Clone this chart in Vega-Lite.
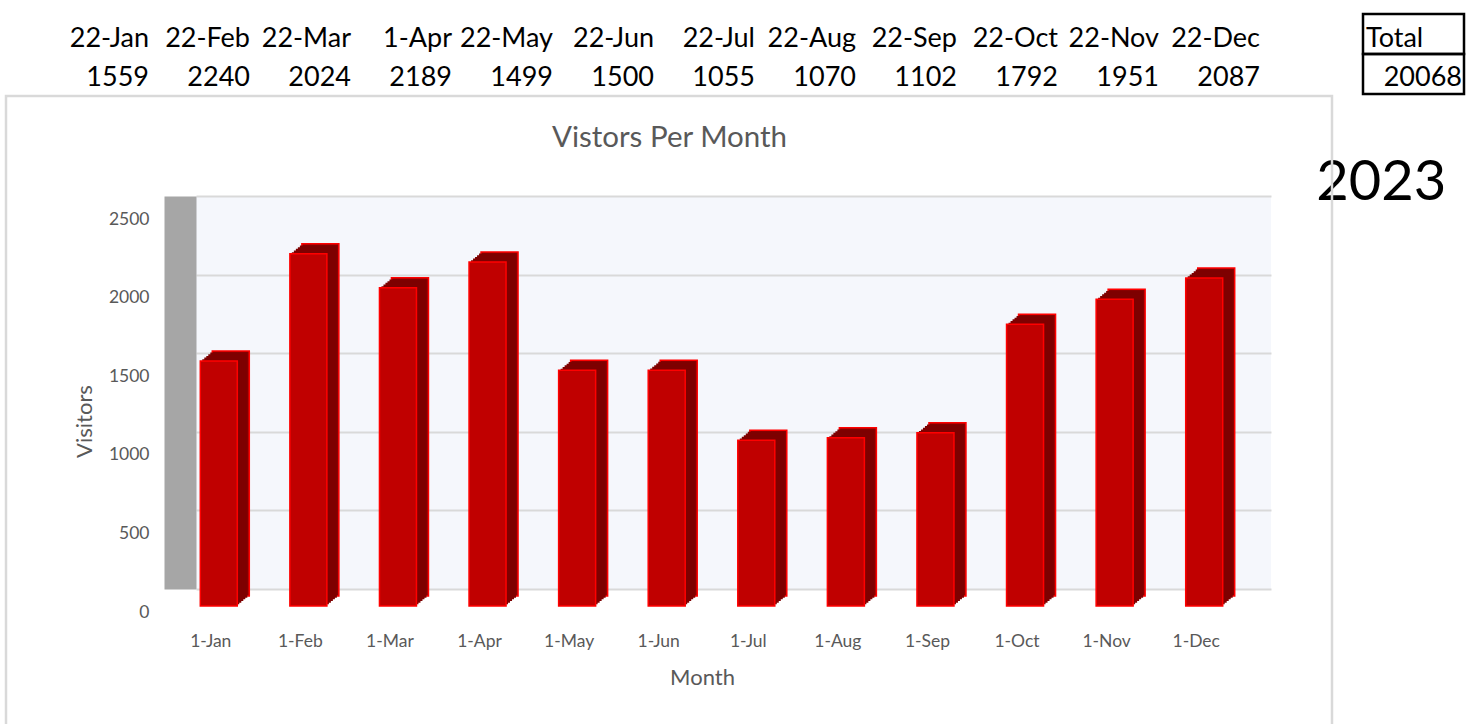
{
  "$schema": "https://vega.github.io/schema/vega-lite/v6.json",
  "padding": {"left": 4, "top": 12, "right": 0, "bottom": 0},
  "background": "white",
  "config": {
    "view": {"stroke": null},
    "font": "Lato",
    "text": {"font": "Lato"},
    "axis": {"labelFont": "Lato", "titleFont": "Lato"},
    "title": {"font": "Lato"}
  },
  "datasets": {
    "months": [
      {"col": "B", "hdr": "22-Jan", "m": "1-Jan", "v": 1559},
      {"col": "C", "hdr": "22-Feb", "m": "1-Feb", "v": 2240},
      {"col": "D", "hdr": "22-Mar", "m": "1-Mar", "v": 2024},
      {"col": "E", "hdr": "1-Apr", "m": "1-Apr", "v": 2189},
      {"col": "F", "hdr": "22-May", "m": "1-May", "v": 1499},
      {"col": "G", "hdr": "22-Jun", "m": "1-Jun", "v": 1500},
      {"col": "H", "hdr": "22-Jul", "m": "1-Jul", "v": 1055},
      {"col": "I", "hdr": "22-Aug", "m": "1-Aug", "v": 1070},
      {"col": "J", "hdr": "22-Sep", "m": "1-Sep", "v": 1102},
      {"col": "K", "hdr": "22-Oct", "m": "1-Oct", "v": 1792},
      {"col": "L", "hdr": "22-Nov", "m": "1-Nov", "v": 1951},
      {"col": "M", "hdr": "22-Dec", "m": "1-Dec", "v": 2087}
    ]
  },
  "bounds": "flush",
  "spacing": 22,
  "vconcat": [
    {
      "width": 1414,
      "height": 160,
      "layer": [
        {
          "data": {"name": "months"},
          "mark": {"type": "text", "align": "right", "baseline": "alphabetic", "dx": -2, "fontSize": 27, "color": "black"},
          "encoding": {
            "x": {"field": "col", "type": "nominal", "bandPosition": 1, "axis": null,
                  "scale": {"type": "band", "domain": ["B","C","D","E","F","G","H","I","J","K","L","M","N","O"], "paddingInner": 0, "paddingOuter": 0}},
            "y": {"datum": "r1", "type": "nominal", "bandPosition": 0.82, "axis": null,
                  "scale": {"type": "band", "domain": ["r1","r2","r3","r4"], "paddingInner": 0, "paddingOuter": 0}},
            "text": {"field": "hdr"}
          }
        },
        {
          "data": {"name": "months"},
          "mark": {"type": "text", "align": "right", "baseline": "alphabetic", "dx": -2, "fontSize": 27, "color": "black"},
          "encoding": {
            "x": {"field": "col", "type": "nominal", "bandPosition": 1, "axis": null},
            "y": {"datum": "r2", "type": "nominal", "bandPosition": 0.8, "axis": null},
            "text": {"field": "v"}
          }
        },
        {
          "data": {"values": [{"col": "O", "label": "Total"}]},
          "mark": {"type": "text", "align": "left", "baseline": "alphabetic", "dx": 3, "fontSize": 27, "color": "black"},
          "encoding": {
            "x": {"field": "col", "type": "nominal", "bandPosition": 0, "axis": null},
            "y": {"datum": "r1", "type": "nominal", "bandPosition": 0.82, "axis": null},
            "text": {"field": "label"}
          }
        },
        {
          "data": {"values": [{"col": "O", "total": 20068}]},
          "mark": {"type": "text", "align": "right", "baseline": "alphabetic", "dx": -2, "fontSize": 27, "color": "black"},
          "encoding": {
            "x": {"field": "col", "type": "nominal", "bandPosition": 1, "axis": null},
            "y": {"datum": "r2", "type": "nominal", "bandPosition": 0.8, "axis": null},
            "text": {"field": "total"}
          }
        },
        {
          "data": {"values": [{"col": "O", "row": "r1"}, {"col": "O", "row": "r2"}]},
          "mark": {"type": "rect", "filled": false, "fill": null, "stroke": "black", "strokeWidth": 2.5},
          "encoding": {
            "x": {"field": "col", "type": "nominal", "axis": null},
            "y": {"field": "row", "type": "nominal", "axis": null}
          }
        },
        {
          "data": {"values": [{"col": "O", "year": "2023"}]},
          "mark": {"type": "text", "align": "center", "baseline": "alphabetic", "fontSize": 56, "color": "black"},
          "encoding": {
            "x": {"field": "col", "type": "nominal", "bandPosition": 0.18, "axis": null},
            "y": {"datum": "r4", "type": "nominal", "bandPosition": 1.65, "axis": null},
            "text": {"field": "year"}
          }
        }
      ]
    },
    {
      "bounds": "flush",
      "spacing": 0,
      "hconcat": [
        {
          "width": 146,
          "height": 393,
          "data": {"values": []},
          "mark": {"type": "point", "opacity": 0},
          "encoding": {}
        },
        {
          "width": 1075,
          "height": 393,
          "view": {"fill": "#F5F7FC", "stroke": null},
          "title": {"text": "Vistors Per Month", "frame": "group", "anchor": "middle", "dx": -64, "offset": -59, "fontSize": 29.5, "fontWeight": "normal", "color": "#595959"},
          "resolve": {"scale": {"x": "independent", "y": "independent"}, "axis": {"x": "independent", "y": "independent"}},
          "layer": [
            {
              "data": {"values": [{"from": 0, "to": 2500}]},
              "mark": {"type": "rect", "filled": false, "fill": null, "stroke": "#D9D9D9", "strokeWidth": 2.5,
                       "xOffset": -190, "x2Offset": 61, "yOffset": -100, "y2Offset": 138},
              "encoding": {
                "x": {"field": "from", "type": "quantitative", "scale": {"domain": [0, 2500], "nice": false}, "axis": null},
                "x2": {"field": "to"},
                "y": {"field": "to", "type": "quantitative", "scale": {"domain": [0, 2500], "nice": false}, "axis": null},
                "y2": {"field": "from"}
              }
            },
            {
              "data": {"name": "months"},
              "encoding": {
                "x": {"field": "m", "type": "nominal", "sort": null, "title": "Month",
                      "scale": {"type": "band", "paddingInner": 0, "paddingOuter": 0},
                      "axis": {"labelAngle": 0, "labelOffset": -30, "labelPadding": 43, "ticks": false, "tickSize": 0, "domain": false, "grid": false,
                               "labelFontSize": 17.5, "labelColor": "#595959", "titleFontSize": 22, "titleFontWeight": "normal", "titleColor": "#595959",
                               "titlePadding": 18, "titleX": 506}},
                "y": {"field": "v", "type": "quantitative", "title": "Visitors",
                      "scale": {"domain": [0, 2500], "nice": false},
                      "axis": {"values": [0, 500, 1000, 1500, 2000, 2500], "format": "d", "grid": true, "gridColor": "#D9D9D9", "gridWidth": 2,
                               "domain": true, "domainColor": "#A6A6A6", "domainWidth": 32, "offset": 16, "ticks": false, "tickSize": 0,
                               "labelPadding": 31, "labelOffset": 23, "labelFontSize": 17.5, "labelColor": "#595959",
                               "titleFontSize": 22, "titleFontWeight": "normal", "titleColor": "#595959", "titlePadding": 12, "titleY": 225}}
              },
              "layer": [
                {"mark": {"type": "bar", "color": "#8A0000", "stroke": "#FF0000", "strokeWidth": 1.5, "width": 37, "xOffset": -10, "yOffset": 7, "y2Offset": 7}},
                {"mark": {"type": "bar", "color": "#7E0000", "width": 37, "xOffset": -12, "yOffset": 8.67, "y2Offset": 8.67}},
                {"mark": {"type": "bar", "color": "#7E0000", "width": 37, "xOffset": -14, "yOffset": 10.33, "y2Offset": 10.33}},
                {"mark": {"type": "bar", "color": "#7E0000", "width": 37, "xOffset": -16, "yOffset": 12, "y2Offset": 12}},
                {"mark": {"type": "bar", "color": "#7E0000", "width": 37, "xOffset": -18, "yOffset": 13.67, "y2Offset": 13.67}},
                {"mark": {"type": "bar", "color": "#7E0000", "width": 37, "xOffset": -20, "yOffset": 15.33, "y2Offset": 15.33}},
                {"mark": {"type": "bar", "color": "#C00000", "stroke": "#FF0000", "strokeWidth": 1.5, "width": 37, "xOffset": -22, "yOffset": 17, "y2Offset": 17}}
              ]
            }
          ]
        }
      ]
    }
  ]
}
